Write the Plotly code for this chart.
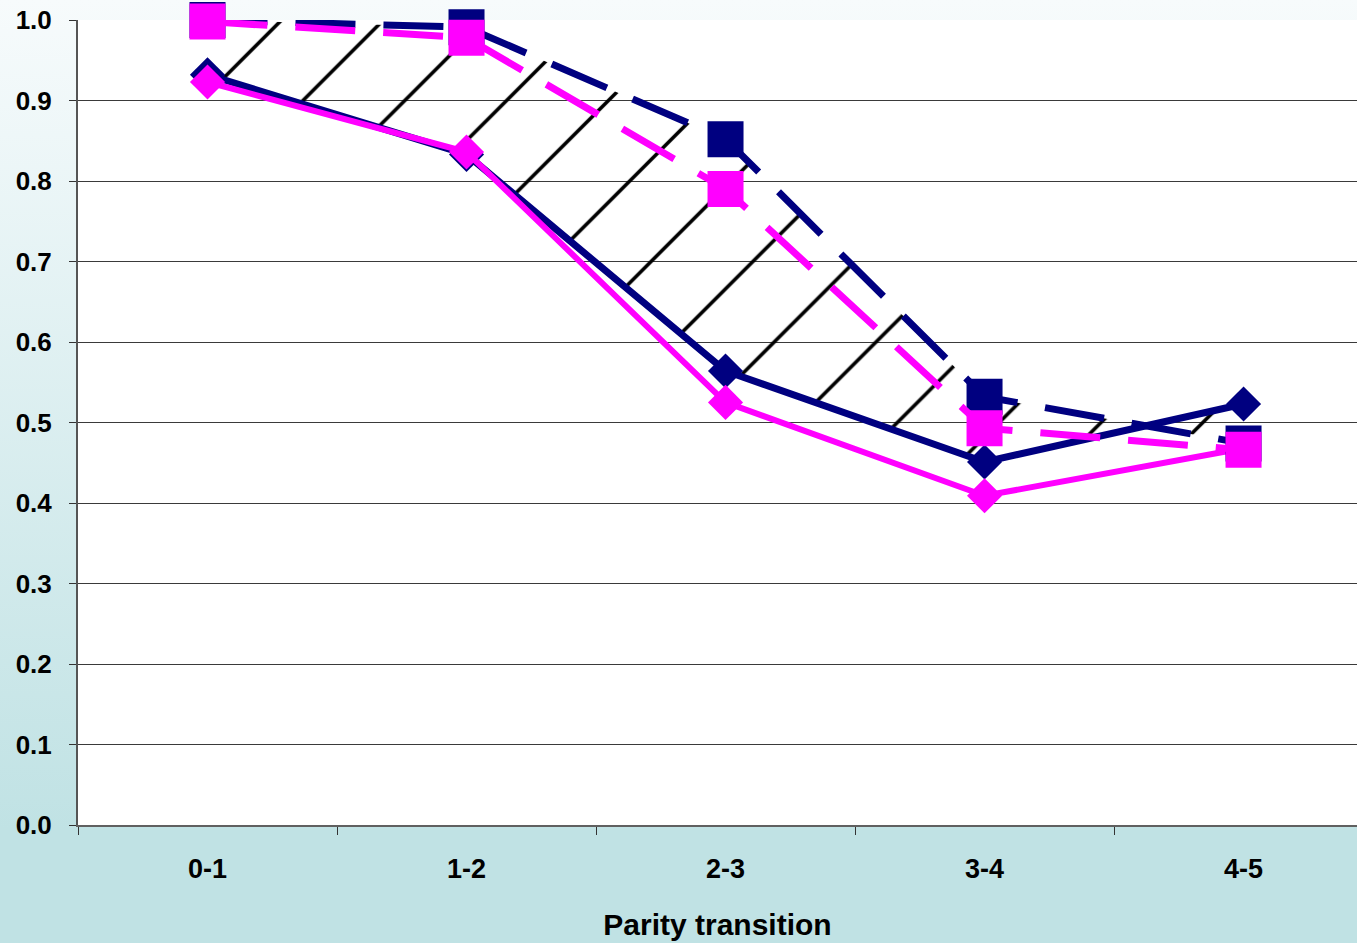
import base64
import plotly.graph_objects as go

# ---- data ----
categories = ["0-1", "1-2", "2-3", "3-4", "4-5"]
navy_solid = [0.932, 0.833, 0.564, 0.451, 0.523]
magenta_solid = [0.923, 0.836, 0.525, 0.409, 0.468]
navy_dashed = [1.000, 0.991, 0.852, 0.532, 0.474]
magenta_dashed = [0.998, 0.978, 0.790, 0.493, 0.466]
y_ticks = [0.0, 0.1, 0.2, 0.3, 0.4, 0.5, 0.6, 0.7, 0.8, 0.9, 1.0]

NAVY = "#000080"
MAGENTA = "#FF00FF"
FONT = "Liberation Sans, Arial, sans-serif"

fig = go.Figure()

# hatched band between navy solid and navy dashed
fig.add_trace(go.Scatter(x=categories, y=navy_solid, mode="lines",
                         line=dict(width=0, color="rgba(0,0,0,0)"),
                         showlegend=False, hoverinfo="skip"))
fig.add_trace(go.Scatter(x=categories, y=navy_dashed, mode="lines",
                         line=dict(width=0, color="rgba(0,0,0,0)"),
                         fill="tonexty", fillcolor="rgba(255,255,255,0)",
                         fillpattern=dict(shape="/", fgcolor="#000000", fgopacity=1,
                                          bgcolor="rgba(255,255,255,0)",
                                          size=72, solidity=0.05),
                         showlegend=False, hoverinfo="skip"))

fig.add_trace(go.Scatter(x=categories, y=navy_solid, mode="lines+markers",
                         name="Navy solid", cliponaxis=False,
                         line=dict(color=NAVY, width=7),
                         marker=dict(symbol="diamond", size=27, color=NAVY)))
fig.add_trace(go.Scatter(x=categories, y=magenta_solid, mode="lines+markers",
                         name="Magenta solid", cliponaxis=False,
                         line=dict(color=MAGENTA, width=6),
                         marker=dict(symbol="diamond", size=27, color=MAGENTA)))
fig.add_trace(go.Scatter(x=categories, y=navy_dashed, mode="lines+markers",
                         name="Navy dashed", cliponaxis=False,
                         line=dict(color=NAVY, width=7, dash="60px,28px"),
                         marker=dict(symbol="square", size=36, color=NAVY)))
fig.add_trace(go.Scatter(x=categories, y=magenta_dashed, mode="lines+markers",
                         name="Magenta dashed", cliponaxis=False,
                         line=dict(color=MAGENTA, width=7, dash="60px,28px"),
                         marker=dict(symbol="square", size=36, color=MAGENTA)))

# gradient background of the chart area
svg = ('<svg xmlns="http://www.w3.org/2000/svg" width="100" height="100" preserveAspectRatio="none">'
       '<defs><linearGradient id="g" x1="0" y1="0" x2="0" y2="1">'
       '<stop offset="0" stop-color="#f7fbfc"/>'
       '<stop offset="0.88" stop-color="#c0e2e4"/>'
       '<stop offset="1" stop-color="#c0e2e4"/>'
       '</linearGradient></defs>'
       '<rect width="100" height="100" fill="url(#g)"/></svg>')
svg_uri = "data:image/svg+xml;base64," + base64.b64encode(svg.encode()).decode()

fig.update_layout(
    width=1357, height=943,
    margin=dict(l=78, r=0, t=20, b=118),
    paper_bgcolor="#c0e2e4",
    plot_bgcolor="white",
    showlegend=False,
    font=dict(family=FONT, color="black"),
    images=[dict(source=svg_uri, xref="paper", yref="paper",
                 x=-78 / 1279, y=1 + 20 / 805,
                 sizex=1357 / 1279, sizey=943 / 805,
                 xanchor="left", yanchor="top",
                 sizing="stretch", layer="below")],
    shapes=[dict(type="rect", xref="paper", yref="paper", x0=0, x1=1, y0=0, y1=1,
                 fillcolor="white", line=dict(width=0), layer="below")],
    xaxis=dict(
        type="category", range=[-0.5, 4.438],
        showgrid=False, zeroline=False,
        showline=True, linecolor="#606060", linewidth=2,
        ticks="outside", tickson="boundaries", ticklen=8,
        tickcolor="#333333", tickwidth=1,
        ticklabelstandoff=19,
        tickfont=dict(family=FONT, size=27, color="black", weight="bold"),
        title=dict(text="<b>Parity transition</b>", standoff=31,
                   font=dict(family=FONT, size=30, color="black")),
    ),
    yaxis=dict(
        range=[0, 1.0], tickvals=y_ticks, tickformat=".1f",
        showgrid=True, gridcolor="#3a3a3a", gridwidth=1,
        zeroline=False,
        showline=True, linecolor="#555555", linewidth=2,
        ticks="outside", ticklen=7, tickcolor="#333333", tickwidth=1,
        ticklabelstandoff=12,
        tickfont=dict(family=FONT, size=26, color="black", weight="bold"),
    ),
)

fig.write_html("out.html", config={"displayModeBar": False},
               post_script="document.body.style.margin='0';document.body.style.overflow='hidden';")
